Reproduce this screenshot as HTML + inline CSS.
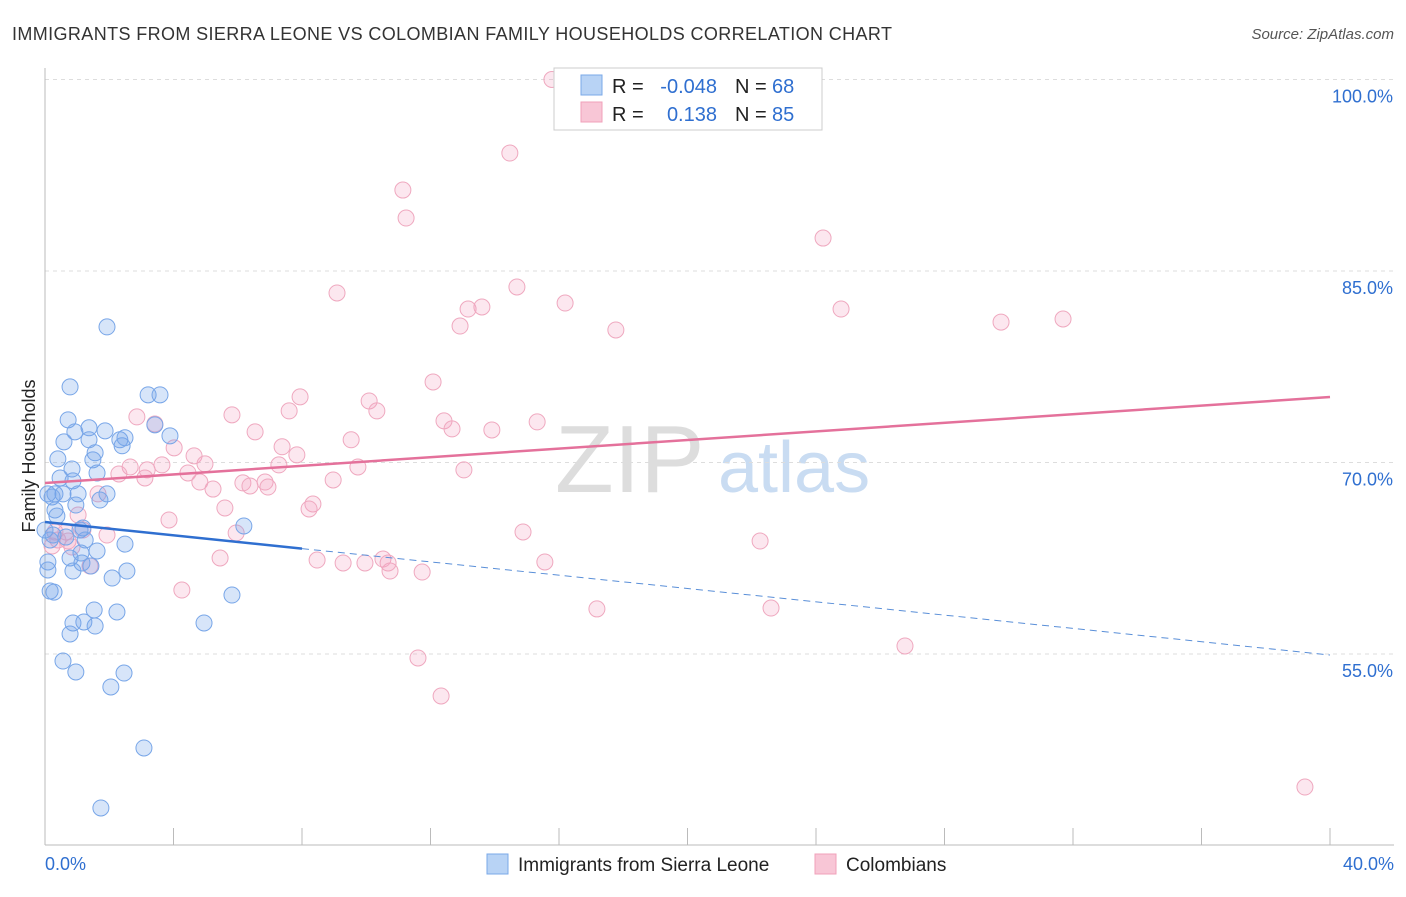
<!DOCTYPE html>
<html><head><meta charset="utf-8"><style>
body{margin:0;background:#fff;font-family:"Liberation Sans",sans-serif;}
svg text{font-family:"Liberation Sans",sans-serif;}
</style></head><body>
<svg id="chart" width="1406" height="892">
<text x="12" y="40" font-size="18" fill="#333" textLength="880">IMMIGRANTS FROM SIERRA LEONE VS COLOMBIAN FAMILY HOUSEHOLDS CORRELATION CHART</text>
<text x="1394" y="39" font-size="15" fill="#555" font-style="italic" text-anchor="end">Source: ZipAtlas.com</text>
<text x="35" y="456" font-size="18" fill="#222" text-anchor="middle" transform="rotate(-90 35 456)">Family Households</text>
<text x="555" y="492" font-size="96" fill="#ddd" font-family="Liberation Serif">ZIP</text>
<text x="718" y="492" font-size="72" fill="#c9dcf2">atlas</text>
<g id="grid"></g><g id="marks"></g>
<g>
<rect x="554" y="68" width="268" height="62" fill="#fff" stroke="#ccc"/>
<rect x="581" y="75" width="21" height="20" fill="#b8d3f5" stroke="#7aa8e8"/>
<rect x="581" y="102" width="21" height="20" fill="#f8c6d6" stroke="#f0a0ba"/>
<text x="612" y="93" font-size="20" fill="#222">R =</text>
<text x="717" y="93" font-size="20" fill="#2f6fd0" text-anchor="end">-0.048</text>
<text x="735" y="93" font-size="20" fill="#222">N =</text>
<text x="772" y="93" font-size="20" fill="#2f6fd0">68</text>
<text x="612" y="121" font-size="20" fill="#222">R =</text>
<text x="717" y="121" font-size="20" fill="#2f6fd0" text-anchor="end">0.138</text>
<text x="735" y="121" font-size="20" fill="#222">N =</text>
<text x="772" y="121" font-size="20" fill="#2f6fd0">85</text>
</g>
<g>
<rect x="487" y="854" width="21" height="20" fill="#b8d3f5" stroke="#7aa8e8"/>
<text x="518" y="871" font-size="19" fill="#222">Immigrants from Sierra Leone</text>
<rect x="815" y="854" width="21" height="20" fill="#f8c6d6" stroke="#f0a0ba"/>
<text x="846" y="871" font-size="19" fill="#222">Colombians</text>
</g>
</svg>
<script>
const yTicks=[100,85,70,55];
const xTickLabels=["0.0%","40.0%"];
const blueX=[1.93,0.78,3.21,3.58,0.72,3.42,3.89,1.37,1.87,0.93,0.59,1.37,2.33,2.40,1.56,1.49,0.40,0.84,1.62,0.47,0.87,0.31,0.56,1.03,1.93,0.09,0.22,0.96,0.31,0.37,1.18,1.09,0.25,0.65,2.49,1.62,1.12,0.78,1.15,1.43,0.09,0.09,2.55,0.87,2.09,0.16,0.28,5.82,1.53,2.24,1.21,0.87,1.56,4.95,0.78,0.56,0.96,2.46,2.05,3.08,1.74,6.19,2.49,0.00,0.16,1.25,1.71];
const blueY=[80.62,75.92,75.30,75.30,73.34,72.95,72.09,72.72,72.48,72.40,71.62,71.78,71.78,71.31,70.76,70.21,70.28,69.49,69.18,68.79,68.56,67.54,67.54,67.54,67.54,67.54,67.30,66.67,66.28,65.81,64.87,64.71,64.32,64.16,63.61,63.07,62.91,62.52,62.13,61.89,62.21,61.58,61.50,61.50,60.95,59.93,59.85,59.62,58.45,58.29,57.51,57.43,57.19,57.43,56.57,54.45,53.59,53.51,52.42,47.64,42.94,65.03,71.94,64.71,63.93,63.93,67.06];
const pinkX=[15.78,14.47,11.14,11.24,24.22,14.69,9.09,13.17,13.60,16.19,12.92,17.77,24.78,29.76,31.69,12.08,7.94,10.09,7.60,10.33,2.86,5.82,12.42,12.67,13.91,15.32,3.42,6.54,9.53,7.38,4.02,4.64,7.84,4.98,3.64,2.65,3.18,2.30,7.28,9.74,13.04,4.45,3.11,4.82,5.23,6.16,6.38,6.85,6.94,8.97,1.65,8.34,8.22,5.60,3.86,1.03,1.18,1.93,0.65,0.40,0.72,14.88,5.95,22.26,8.47,9.28,9.96,10.52,10.74,10.68,5.45,11.74,15.56,4.26,17.18,22.60,11.61,26.77,12.33,39.22,0.84,0.31,0.22,1.40];
const pinkY=[100.0,94.24,91.34,89.15,87.58,83.75,83.28,82.02,82.18,82.49,80.69,80.38,82.02,81.00,81.24,76.31,75.14,74.82,74.04,74.04,73.57,73.73,73.26,72.63,72.55,73.18,73.02,72.40,71.78,71.23,71.15,70.52,70.60,69.89,69.81,69.65,69.42,69.10,69.81,69.65,69.42,69.18,68.79,68.47,67.92,68.40,68.16,68.47,68.08,68.63,67.54,66.75,66.36,66.44,65.50,65.89,64.71,64.32,64.56,63.93,63.85,64.56,64.48,63.85,62.36,62.13,62.13,62.44,61.50,62.13,62.52,61.42,62.21,60.01,58.53,58.60,54.69,55.63,51.71,44.58,63.38,64.56,63.46,61.89];
const blueTrend=[65.34,-0.2605];
const pinkTrend=[68.39,0.1685];
const X0=45,X1=1330,xs=v=>X0+(v/40)*(X1-X0);
const ys=v=>79.5+(100-v)*191.5/15;
const NS="http://www.w3.org/2000/svg";
function mk(tag,attrs,parent){const e=document.createElementNS(NS,tag);for(const k in attrs)e.setAttribute(k,attrs[k]);parent.appendChild(e);return e;}
const grid=document.getElementById('grid'),marks=document.getElementById('marks');
yTicks.forEach(t=>{
  const l=mk('line',{x1:X0,x2:1394,y1:ys(t),y2:ys(t),stroke:'#ddd','stroke-dasharray':'4,4'},grid);
  
  
  const tx=mk('text',{x:1393,y:ys(t)+23,'font-size':18,fill:'#2f6fd0','text-anchor':'end'},grid);
  tx.textContent=t.toFixed(1)+'%';
  
  
});
const ax=mk('line',{x1:X0,x2:X0,y1:68,y2:845,stroke:'#bbb'},grid);


const bx=mk('line',{x1:X0,x2:1394,y1:845,y2:845,stroke:'#bbb'},grid);


for(let i=0;i<=10;i++){const t=mk('line',{x1:xs(i*4),x2:xs(i*4),y1:828,y2:845,stroke:'#bbb'},grid);
  
  }
[[0,'start',45],[40,'end',1394]].forEach((d,i)=>{const t=mk('text',{x:d[2],y:870,'font-size':18,fill:'#2f6fd0','text-anchor':d[1]},grid);t.textContent=xTickLabels[i];
  
  });
function pts(xa,ya,fill,stroke,name){xa.forEach((x,i)=>{const c=mk('circle',{cx:xs(x),cy:ys(ya[i]),r:8,fill:fill,stroke:stroke,'stroke-width':1},marks);
  
  });}
pts(pinkX,pinkY,'rgba(244,160,190,0.25)','#efa8bf','colombians-point');
pts(blueX,blueY,'rgba(110,160,235,0.28)','#78a6e8','sierra-leone-point');
const pl=mk('line',{x1:xs(0),y1:ys(pinkTrend[0]),x2:xs(40),y2:ys(pinkTrend[0]+40*pinkTrend[1]),stroke:'#e4719b','stroke-width':2.5},marks);


const bl=mk('line',{x1:xs(0),y1:ys(blueTrend[0]),x2:xs(8),y2:ys(blueTrend[0]+8*blueTrend[1]),stroke:'#2f6fd0','stroke-width':2.5},marks);


const bd=mk('line',{x1:xs(8),y1:ys(blueTrend[0]+8*blueTrend[1]),x2:xs(40),y2:ys(blueTrend[0]+40*blueTrend[1]),stroke:'#5a8fd8','stroke-width':1,'stroke-dasharray':'7,5'},marks);


</script>
</body></html>
